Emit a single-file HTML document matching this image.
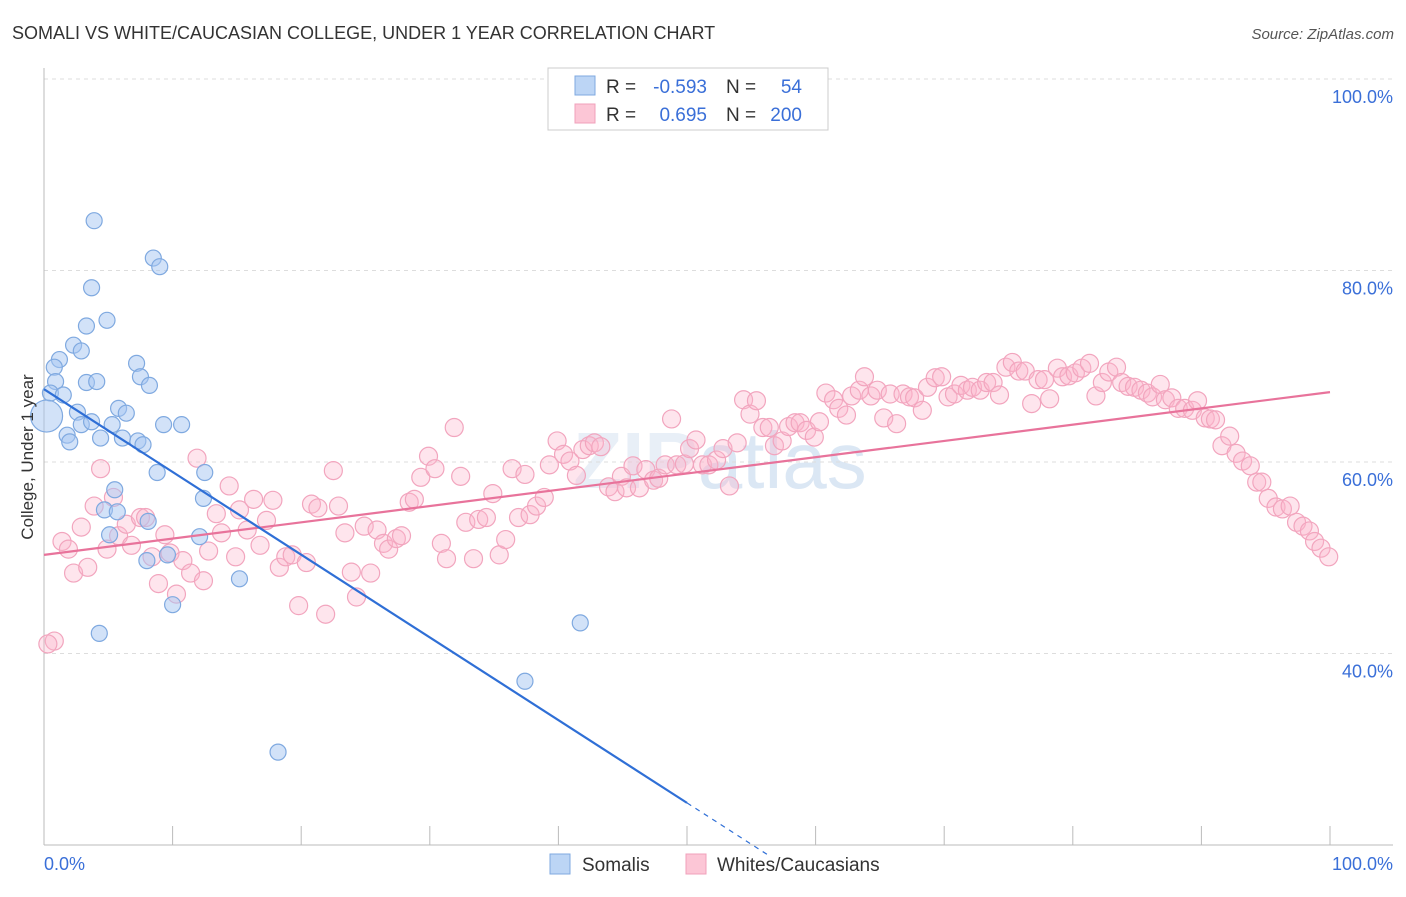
<!DOCTYPE html>
<html><head><meta charset="utf-8"><style>
body{margin:0;background:#fff;font-family:"Liberation Sans",sans-serif;}
svg text{font-family:"Liberation Sans",sans-serif;}
</style></head><body>
<svg id="chart" width="1406" height="892" xmlns="http://www.w3.org/2000/svg">
<text x="12" y="39" font-size="18" fill="#333">SOMALI VS WHITE/CAUCASIAN COLLEGE, UNDER 1 YEAR CORRELATION CHART</text>
<text x="1394" y="39" font-size="15" fill="#555" text-anchor="end" font-style="italic">Source: ZipAtlas.com</text>
<text x="720" y="488" font-size="80" fill="#e8eff7" text-anchor="middle" font-weight="bold">ZIP<tspan fill="#dbe7f4" font-weight="normal">atlas</tspan></text>
<g id="grid"></g>
<g id="axes"></g>
<g id="pts"></g>
<g id="lines"></g>
<text transform="translate(33,457) rotate(-90)" font-size="17" fill="#333" text-anchor="middle">College, Under 1 year</text>
<g>
<rect x="548" y="68" width="280" height="62" fill="#fff" stroke="#ccc"/>
<rect x="575" y="76" width="20" height="19" fill="#bcd5f5" stroke="#7fa9e0"/>
<rect x="575" y="104" width="20" height="19" fill="#fcc6d6" stroke="#f0a0bb"/>
<text x="606" y="93" font-size="19" fill="#333">R =</text>
<text x="707" y="93" font-size="19" fill="#3a6fd8" text-anchor="end">-0.593</text>
<text x="726" y="93" font-size="19" fill="#333">N =</text>
<text x="802" y="93" font-size="19" fill="#3a6fd8" text-anchor="end">54</text>
<text x="606" y="121" font-size="19" fill="#333">R =</text>
<text x="707" y="121" font-size="19" fill="#3a6fd8" text-anchor="end">0.695</text>
<text x="726" y="121" font-size="19" fill="#333">N =</text>
<text x="802" y="121" font-size="19" fill="#3a6fd8" text-anchor="end">200</text>
</g>
<g>
<rect x="550" y="854" width="20" height="20" fill="#bcd5f5" stroke="#7fa9e0"/>
<text x="582" y="871" font-size="19" fill="#333">Somalis</text>
<rect x="686" y="854" width="20" height="20" fill="#fcc6d6" stroke="#f0a0bb"/>
<text x="717" y="871" font-size="19" fill="#333">Whites/Caucasians</text>
</g>
</svg>
<script>
const yTicks=[40,60,80,100];
const yTickLabels=["40.0%","60.0%","80.0%","100.0%"];
const xTickLabels=["0.0%","100.0%"];
const somaliX=[3.9,3.7,8.5,9.0,4.9,3.3,2.3,2.9,1.2,0.8,7.2,7.5,8.2,0.9,3.3,4.1,0.5,1.5,2.6,5.8,6.4,2.9,3.7,5.3,9.3,10.7,1.8,2.0,4.4,6.1,7.3,7.7,8.8,12.5,5.5,12.4,4.7,5.7,8.1,5.1,12.1,9.6,8.0,15.2,10.0,4.3,41.7,37.4,18.2,0.2];
const somaliY=[85.2,78.2,81.3,80.4,74.8,74.2,72.2,71.6,70.7,69.9,70.3,68.9,68.0,68.4,68.3,68.4,67.2,67.0,65.2,65.6,65.1,63.9,64.2,63.9,63.9,63.9,62.8,62.1,62.5,62.5,62.2,61.8,58.9,58.9,57.1,56.2,55.0,54.8,53.8,52.4,52.2,50.3,49.7,47.8,45.1,42.1,43.2,37.1,29.7,64.8];
const whiteX=[0.8,0.3,1.4,1.9,2.3,2.9,3.4,3.9,4.4,4.9,5.4,5.8,6.4,6.8,7.5,7.9,8.4,8.9,9.4,9.8,10.3,10.8,11.4,11.9,12.4,12.8,13.4,13.8,14.4,14.9,15.2,15.8,16.3,16.8,17.3,17.8,18.3,18.8,19.3,19.8,20.4,20.8,21.3,21.9,22.5,22.9,23.4,23.9,24.3,24.9,25.4,25.9,26.4,26.8,27.4,27.8,28.4,28.8,29.3,29.9,30.4,30.9,31.3,31.9,32.4,32.8,33.4,33.8,34.4,34.9,35.4,35.9,36.4,36.9,37.4,37.8,38.3,38.9,39.3,39.9,40.4,40.9,41.4,41.9,42.4,42.8,43.3,43.9,44.4,44.9,45.3,45.8,46.3,46.8,47.4,47.8,48.3,48.8,49.2,49.8,50.2,50.7,51.2,51.7,52.3,52.8,53.3,53.9,54.4,54.9,55.4,55.9,56.4,56.8,57.4,57.9,58.4,58.8,59.3,59.9,60.3,60.8,61.4,61.8,62.4,62.8,63.4,63.8,64.3,64.8,65.3,65.8,66.3,66.8,67.3,67.7,68.3,68.7,69.3,69.8,70.3,70.8,71.3,71.8,72.2,72.8,73.3,73.8,74.3,74.8,75.3,75.8,76.3,76.8,77.3,77.8,78.2,78.8,79.2,79.7,80.2,80.7,81.3,81.8,82.3,82.8,83.4,83.8,84.3,84.8,85.3,85.8,86.2,86.8,87.2,87.7,88.2,88.7,89.3,89.7,90.3,90.7,91.1,91.6,92.2,92.7,93.2,93.8,94.3,94.7,95.2,95.8,96.3,96.9,97.4,97.9,98.4,98.8,99.3,99.9];
const whiteY=[41.3,41.0,51.7,50.9,48.4,53.2,49.0,55.4,59.3,50.9,56.3,52.3,53.5,51.3,54.2,54.2,50.1,47.3,52.4,50.5,46.2,49.7,48.4,60.4,47.6,50.7,54.6,52.6,57.5,50.1,55.0,52.9,56.1,51.3,53.9,56.0,49.0,50.1,50.3,45.0,49.5,55.6,55.2,44.1,59.1,55.4,52.6,48.5,45.9,53.3,48.4,52.9,51.5,50.9,52.0,52.3,55.8,56.1,58.4,60.6,59.3,51.5,49.9,63.6,58.5,53.7,49.9,54.0,54.2,56.7,50.3,51.9,59.3,54.2,58.7,54.5,55.4,56.3,59.7,62.2,60.8,60.1,58.6,61.3,61.7,62.0,61.6,57.4,56.9,58.5,57.3,59.6,57.3,59.2,58.1,58.3,59.7,64.5,59.7,59.8,61.4,62.3,59.7,59.7,60.2,61.4,57.5,62.0,66.5,65.0,66.4,63.6,63.6,61.7,62.2,63.7,64.1,64.1,63.3,62.6,64.2,67.2,66.5,65.6,64.9,66.9,67.5,68.9,66.9,67.5,64.6,67.1,64.0,67.1,66.8,66.7,65.4,67.8,68.8,68.9,66.8,67.1,68.0,67.5,67.8,67.5,68.3,68.3,67.0,69.9,70.4,69.5,69.5,66.1,68.6,68.6,66.6,69.8,68.9,69.0,69.3,69.8,70.3,66.9,68.3,69.4,69.9,68.3,67.9,67.8,67.5,67.2,66.8,68.1,66.5,66.7,65.6,65.6,65.4,66.4,64.6,64.5,64.4,61.7,62.7,60.9,60.1,59.6,57.9,57.9,56.2,55.3,55.1,55.4,53.7,53.3,52.8,51.7,51.0,50.1];
const somaliTrend=[67.6,-0.864];   // intercept, slope
const whiteTrend=[50.3,0.17];
const NS="http://www.w3.org/2000/svg";
const X=v=>44+v*12.86, Y=v=>79+(100-v)*9.575;
function mk(t,a,p){const e=document.createElementNS(NS,t);for(const k in a)e.setAttribute(k,a[k]);p.appendChild(e);return e;}
const grid=document.getElementById('grid'),axes=document.getElementById('axes'),pts=document.getElementById('pts'),lines=document.getElementById('lines');
yTicks.forEach((t,i)=>{
  const g=mk('line',{x1:44,x2:1393,y1:Y(t),y2:Y(t),stroke:'#ddd','stroke-dasharray':'4,4'},grid);
  
  
  const l=mk('text',{x:1393,y:Y(t)+24,'font-size':18,fill:'#3a6fd8','text-anchor':'end'},axes);
  l.textContent=yTickLabels[i];
  
  
});
const ya=mk('line',{x1:44,x2:44,y1:68,y2:845,stroke:'#bbb'},axes);


const xa=mk('line',{x1:44,x2:1393,y1:845,y2:845,stroke:'#bbb'},axes);


for(let i=0;i<=10;i++){const tk=mk('line',{x1:X(i*10),x2:X(i*10),y1:826,y2:845,stroke:'#bbb'},axes);

}
[[0,'start',44],[1,'end',1393]].forEach(([i,a,x])=>{const t=mk('text',{x:x,y:870,'font-size':18,fill:'#3a6fd8','text-anchor':a},axes);t.textContent=xTickLabels[i];

});
whiteX.forEach((x,i)=>{const c=mk('circle',{cx:X(x),cy:Y(whiteY[i]),r:9,fill:'rgba(252,180,202,0.35)',stroke:'#f2a5be','stroke-width':1.2},pts);

});
somaliX.forEach((x,i)=>{const c=mk('circle',{cx:X(x),cy:Y(somaliY[i]),r:i==somaliX.length-1?16:8,fill:'rgba(165,198,242,0.5)',stroke:'#7fa9e0','stroke-width':1.2},pts);

});
const f=(tr,x)=>tr[0]+tr[1]*x;
const pl=mk('line',{x1:X(0),y1:Y(f(whiteTrend,0)),x2:X(100),y2:Y(f(whiteTrend,100)),stroke:'#e8739b','stroke-width':2.2},lines);


const bl=mk('line',{x1:X(0),y1:Y(f(somaliTrend,0)),x2:X(50),y2:Y(f(somaliTrend,50)),stroke:'#2f6fd6','stroke-width':2.2},lines);


const bd=mk('line',{x1:X(50),y1:Y(f(somaliTrend,50)),x2:X(56.3),y2:Y(f(somaliTrend,56.3)),stroke:'#2f6fd6','stroke-width':1.2,'stroke-dasharray':'5,5'},lines);


</script>
</body></html>
